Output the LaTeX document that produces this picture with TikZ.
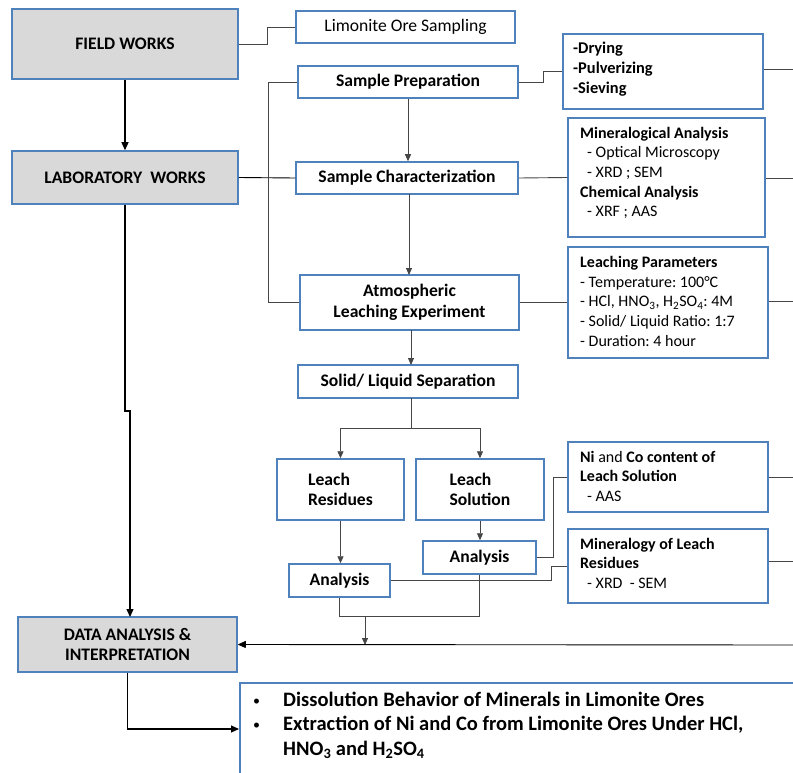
\documentclass[tikz,border=0pt]{standalone}
\usepackage{fontspec}
\setmainfont{Carlito}
\usetikzlibrary{arrows.meta,calc}
\definecolor{boxblue}{RGB}{79,129,189}
\definecolor{boxgray}{RGB}{217,217,217}
\definecolor{lineg}{RGB}{70,70,70}
\frenchspacing
\begin{document}
\begin{tikzpicture}[x=1pt,y=-1pt,
  box/.style={draw=boxblue, line width=1.5pt, fill=white, inner sep=0pt, align=center,
    font=\fontsize{17.6}{20.5}\selectfont\bfseries},
  gbox/.style={box, fill=boxgray},
  itemtxt/.style={inner sep=0pt, anchor=west, align=left, font=\fontsize{16}{19.6}\selectfont},
  conn/.style={draw=lineg, line width=0.9pt},
  arr/.style={conn, -{Triangle[length=7pt,width=6pt]}},
  marr/.style={draw=black, line width=1.1pt, -{Triangle[length=8pt,width=7pt]}}
]
\useasboundingbox (0,0) rectangle (793,773);
\clip (0,0) rectangle (793,773);

% main gray boxes
\node[gbox, minimum width=226, minimum height=70] (field) at (125,44) {FIELD WORKS};
\node[gbox, minimum width=226, minimum height=53] (lab) at (125,177.5) {LABORATORY\ \ WORKS};
\node[gbox, minimum width=219, minimum height=55] (data) at (127.5,644.5) {DATA ANALYSIS \&\\INTERPRETATION};

% process boxes
\node[box, minimum width=219, minimum height=32, font=\fontsize{17.6}{20.5}\selectfont] (limo) at (405.5,27) {Limonite Ore Sampling};
\node[box, minimum width=220, minimum height=32] (prep) at (408,82) {Sample Preparation};
\node[box, minimum width=222, minimum height=32] (char) at (407,178) {Sample Characterization};
\node[box, minimum width=219, minimum height=55] (atmos) at (409.5,302.5) {Atmospheric\\Leaching Experiment};
\node[box, minimum width=220, minimum height=33] (solid) at (408,381.5) {Solid/ Liquid Separation};
\node[box, minimum width=127, minimum height=61, align=left] (resid) at (340.5,489.5) {Leach\\Residues};
\node[box, minimum width=128, minimum height=61, align=left] (soln) at (480,489.5) {Leach\\Solution};
\node[box, minimum width=101, minimum height=33] (anaL) at (339.5,580.5) {Analysis};
\node[box, minimum width=113, minimum height=33] (anaR) at (479.5,557.5) {Analysis};

% detail boxes
\node[box, minimum width=200, minimum height=75] (dry) at (663,71.5) {};
\node[box, minimum width=197, minimum height=119] (mina) at (666.5,177.5) {};
\node[box, minimum width=200, minimum height=111] (leachp) at (668,302.5) {};
\node[box, minimum width=200, minimum height=70] (nico) at (668,477) {};
\node[box, minimum width=200, minimum height=74] (minl) at (668,566) {};

\node[itemtxt, font=\fontsize{16.4}{19.6}\selectfont\bfseries] (drytxt) at (573,69.5)
  {\strut-Drying\\\strut-Pulverizing\\\strut-Sieving};
\node[itemtxt] (minatxt) at (580,173.5)
  {\strut\textbf{Mineralogical Analysis}\\\strut\hspace*{7pt}- Optical Microscopy\\\strut\hspace*{7pt}- XRD ; SEM\\\strut\textbf{Chemical Analysis}\\\strut\hspace*{7pt}- XRF ; AAS};
\node[itemtxt] (leachtxt) at (580,303)
  {\strut\textbf{Leaching Parameters}\\\strut- Temperature: 100°C\\\strut- HCl, HNO\textsubscript{3}, H\textsubscript{2}SO\textsubscript{4}: 4M\\\strut- Solid/ Liquid Ratio: 1:7\\\strut- Duration: 4 hour};
\node[itemtxt] (nicotxt) at (580,478)
  {\strut\textbf{Ni} and \textbf{Co content of}\\\strut\textbf{Leach Solution}\\\strut\hspace*{7pt}- AAS};
\node[itemtxt] (minltxt) at (580,565)
  {\strut\textbf{Mineralogy of Leach}\\\strut\textbf{Residues}\\\strut\hspace*{7pt}- XRD\ \ - SEM};

% bottom result box
\node[box, minimum width=700, minimum height=200, anchor=north west] (bot) at (239,682) {};
\node[inner sep=0pt, anchor=west, align=left, font=\fontsize{20.5}{24.5}\selectfont\bfseries] (bottxt) at (253,726)
  {\strut\makebox[30pt][l]{\fontsize{14}{14}\selectfont\mdseries\raisebox{1pt}{\textbullet}}Dissolution Behavior of Minerals in Limonite Ores\\
   \strut\makebox[30pt][l]{\fontsize{14}{14}\selectfont\mdseries\raisebox{1pt}{\textbullet}}Extraction of Ni and Co from Limonite Ores Under HCl,\\
   \strut\hspace*{30pt}HNO\textsubscript{3} and H\textsubscript{2}SO\textsubscript{4}};

% off-picture coordinates
\coordinate (e1) at (793,69);
\coordinate (e2) at (793,178);
\coordinate (e3) at (793,301);
\coordinate (e4) at (793,477);
\coordinate (e5) at (793,561);
\coordinate (e6) at (793,645);
\coordinate (botin) at (239,729);
\coordinate (m1) at (365,616);
\coordinate (m2) at (365,645);

% connectors
\draw[conn] (field.east) -- (267,44) |- (limo.west);
\draw[marr] (field.south) -- (lab.north);
\draw[conn, draw=black] (lab.east) -- (char.west);
\draw[conn] (prep.west) -- (268,82) |- (atmos.west);
\draw[arr] (prep.south) -- (prep.south |- char.north);
\draw[arr] (409,194) -- (409,275);
\draw[arr] (411,330) -- (411,365);
\draw[conn] (411,398) -- (411,428) coordinate (split);
\draw[arr] (split) -| (resid.north);
\draw[arr] (split) -| (soln.north);
\draw[arr] (resid.south) -- (resid.south |- anaL.north);
\draw[arr] (soln.south) -- (soln.south |- anaR.north);
\draw[conn] (anaL.south) -- (anaL.south |- m1) -- (anaR.south |- m1) -- (anaR.south);
\draw[arr] (m1) -- (m2);
\draw[marr, line width=0.9pt] (e6) -- (data.east);
\draw[marr] (lab.south) -- (125,411) -- (130,411) -- (130,617);
\draw[marr] (data.south) |- (botin);

\draw[conn] (prep.east) -- (543,82) |- (dry.west);
\draw[conn] (char.east) -- (mina.west);
\draw[conn] (atmos.east) -- (leachp.west);
\draw[conn] (anaR.east) -- (553,557.5) |- (nico.west);
\draw[conn] (anaL.east) -- (551,580.5) |- (minl.west);

\draw[conn] (dry.east |- e1) -- (e1);
\draw[conn] (mina.east |- e2) -- (e2);
\draw[conn] (leachp.east |- e3) -- (e3);
\draw[conn] (nico.east |- e4) -- (e4);
\draw[conn] (minl.east |- e5) -- (e5);
\end{tikzpicture}
\end{document}
